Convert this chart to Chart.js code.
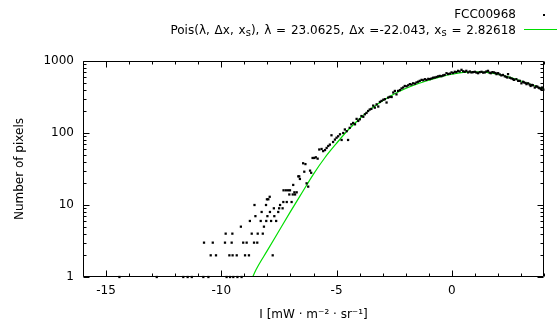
<!DOCTYPE html>
<html>
<head>
<meta charset="utf-8">
<script src="https://cdn.jsdelivr.net/npm/chart.js@4.4.0/dist/chart.umd.min.js"></script>
<style>
    body { margin: 0; background: #fff; }
    #wrap { position: relative; width: 557px; height: 329px; font-family: "DejaVu Sans", sans-serif; font-size: 12px; color: #000; }
    .leg { position: absolute; right: 41px; white-space: nowrap; line-height: 14px; }
    .leg sub { font-size: 10px; vertical-align: -2px; line-height: 0; }
</style>
</head>
<body>
<div id="wrap">
    <canvas id="graphPixels" width="557" height="329"></canvas>
    <div class="leg" style="top:7px">FCC00968</div>
    <div style="position:absolute;left:543px;top:14px;width:2px;height:2px;background:#000"></div>
    <div class="leg" style="top:23px;word-spacing:1px">Pois(λ, Δx, x<sub>s</sub>), λ = 23.0625, Δx =-22.043, x<sub>s</sub> = 2.82618</div>
    <div style="position:absolute;left:524px;top:29px;width:33px;height:1px;background:#00dd00"></div>
</div>
<script>
//Axes - graduations
var xTicks = [-15, -10, -5, 0];
var yTicks = [1, 10, 100, 1000];

//FCC00968 - faibles comptages
var lowX = [
    -14.42, -12.8, -11.65, -11.46, -11.28, -10.78, -10.75, -10.56, -10.46, -10.37,
    -10.23, -9.84, -9.81, -9.77, -9.65, -9.62, -9.55, -9.52, -9.51, -9.48,
    -9.33, -9.30, -9.15, -9.12, -9.05, -8.97, -8.90, -8.80, -8.76, -8.68,
    -8.58, -8.56, -8.52, -8.44, -8.42, -8.29, -8.25, -8.20, -8.15, -8.06,
    -8.05, -8.02, -8.00, -7.96, -7.90, -7.89, -7.84, -7.77, -7.72, -7.70,
    -7.62, -7.53, -7.49, -7.45, -7.34, -7.31, -7.30, -7.20, -7.16, -7.10,
    -7.05, -7.02, -6.95, -6.90, -6.88, -6.83, -6.80, -6.73, -6.66, -6.62,
    -6.59, -6.45, -6.40, -6.35, -6.30, -6.23, -6.15, -6.10, -6.04, -5.97
];
var lowY = [
    1, 1, 1, 1, 1, 1, 3, 1, 2, 3,
    2, 3, 4, 1, 2, 1, 3, 4, 2, 1,
    2, 1, 5, 1, 3, 2, 3, 2, 6, 4,
    3, 10, 7, 3, 4, 6, 8, 4, 5, 10,
    6, 12, 7, 12, 13, 8, 6, 2, 9, 7,
    6, 8, 9, 10, 9, 11, 16, 16, 11, 16,
    14, 16, 11, 14, 19, 15, 14, 15, 25, 25,
    23, 38, 29, 37, 20, 18, 30, 28, 45, 45
];

//FCC00968 - forts comptages
var highX = [
    -5.90, -5.82, -5.75, -5.65, -5.58, -5.50, -5.43, -5.36, -5.29, -5.22, -5.15, -5.07, -5.00,
    -4.93, -4.85, -4.78, -4.71, -4.64, -4.56, -4.50, -4.43, -4.36, -4.28, -4.20, -4.13, -4.06,
    -3.99, -3.92, -3.84, -3.77, -3.70, -3.63, -3.56, -3.49, -3.41, -3.34, -3.26, -3.19, -3.12, -3.05,
    -2.97, -2.90, -2.83, -2.76, -2.69, -2.61, -2.54, -2.47, -2.40, -2.33, -2.25, -2.18, -2.11, -2.04,
    -1.96, -1.89, -1.82, -1.75, -1.68, -1.60, -1.53, -1.46, -1.39, -1.31, -1.24, -1.17, -1.10, -1.02,
    -0.95, -0.88, -0.81, -0.74, -0.66, -0.59, -0.52, -0.45, -0.38, -0.31, -0.23, -0.16, -0.08, -0.01,
    0.06, 0.13, 0.20, 0.27, 0.34, 0.42, 0.49, 0.56, 0.63, 0.71, 0.78, 0.85, 0.92, 1.00,
    1.07, 1.14, 1.21, 1.29, 1.36, 1.43, 1.50, 1.57, 1.64, 1.69, 1.76, 1.83, 1.90, 1.94,
    2.01, 2.08, 2.15, 2.22, 2.30, 2.37, 2.41, 2.44, 2.52, 2.59, 2.66, 2.70, 2.80, 2.88, 2.95,
    3.02, 3.09, 3.13, 3.20, 3.24, 3.31, 3.38, 3.42, 3.48, 3.52, 3.60, 3.66, 3.71, 3.77, 3.81, 3.87, 3.91, 3.97
];
var highY = [
    46, 44, 59, 60, 56, 58, 62, 66, 69, 93, 75, 81, 86,
    90, 96, 80, 100, 112, 106, 80, 118, 132, 138, 132, 157, 147,
    155, 172, 168, 182, 190, 202, 212, 216, 240, 225, 250, 233, 270, 279,
    290, 295, 265, 310, 318, 316, 365, 384, 344, 384, 395, 416, 428, 450,
    445, 460, 477, 470, 490, 485, 504, 515, 530, 547, 540, 559, 547, 565,
    560, 572, 585, 590, 600, 612, 621, 615, 631, 640, 677, 660, 668, 694,
    680, 708, 700, 730, 715, 754, 720, 708, 730, 694, 715, 694, 700, 708,
    690, 677, 700, 708, 690, 694, 715, 730, 690, 677, 700, 694, 680, 657,
    677, 650, 631, 640, 612, 600, 590, 657, 585, 572, 560, 547, 559, 530, 530,
    490, 515, 504, 495, 477, 490, 470, 450, 465, 460, 428, 445, 440, 425, 418, 410, 428, 400
];

//Ajustement Pois - courbe verte
var curveX = [-8.7, -8.5, -8.0, -7.5, -7.0, -6.5, -6.0, -5.5, -5.0, -4.5, -4.0, -3.5, -3.0, -2.5,
    -2.0, -1.5, -1.0, -0.5, 0.0, 0.5, 1.0, 1.5, 2.0, 2.5, 3.0, 3.5, 4.0];
var curveY = [0.9, 1.25, 2.34, 4.35, 8.1, 14.8, 26.9, 45.7, 72, 110, 158, 218, 280, 348,
    415, 480, 540, 600, 655, 695, 708, 695, 655, 596, 528, 465, 405];

function toPoints(xs, ys) {
    var pts = [];
    for (var i = 0; i < xs.length; i++) {
        pts.push({ x: xs[i], y: ys[i] });
    }
    return pts;
}

//Cadre + graduations vers l'intérieur, style gnuplot
var framePlugin = {
    id: 'frame',
    afterDraw: function (chart) {
        var ctx = chart.ctx;
        var a = chart.chartArea;
        var sx = chart.scales.x;
        var sy = chart.scales.y;
        var l = Math.round(a.left) + 0.5, r = Math.round(a.right) - 0.5;
        var t = Math.round(a.top) + 0.5, b = Math.round(a.bottom) - 0.5;
        ctx.save();
        ctx.strokeStyle = '#000';
        ctx.lineWidth = 1;
        ctx.beginPath();
        ctx.rect(l, t, r - l, b - t);
        for (var v = -16; v <= 4; v++) {
            var len = xTicks.indexOf(v) >= 0 ? 6 : 3;
            var px = Math.round(sx.getPixelForValue(v)) + 0.5;
            ctx.moveTo(px, b); ctx.lineTo(px, b - len);
            ctx.moveTo(px, t); ctx.lineTo(px, t + len);
        }
        for (var d = 1; d <= 1000; d *= 10) {
            for (var m = 1; m < 10; m++) {
                var val = d * m;
                if (val > 1000) break;
                var lenY = yTicks.indexOf(val) >= 0 ? 6 : 3;
                var py = Math.round(sy.getPixelForValue(val)) + 0.5;
                ctx.moveTo(l, py); ctx.lineTo(l + lenY, py);
                ctx.moveTo(r, py); ctx.lineTo(r - lenY, py);
            }
        }
        ctx.stroke();
        ctx.restore();
    }
};

function DisplayGraphPixels(graphId) {
    var ctx = document.getElementById(graphId).getContext('2d');
    var font = { family: 'DejaVu Sans', size: 12 };
    var chart = new Chart(ctx, {
        type: 'scatter',
        data: {
            datasets: [{
                label: 'FCC00968',
                data: toPoints(lowX, lowY).concat(toPoints(highX, highY)),
                pointStyle: 'rect',
                pointRadius: 1.6,
                backgroundColor: '#000',
                borderWidth: 0,
                clip: 3,
                order: 1
            }, {
                type: 'line',
                label: 'Pois',
                data: toPoints(curveX, curveY),
                borderColor: '#00dd00',
                borderWidth: 1.2,
                pointRadius: 0,
                showLine: true,
                fill: false,
                cubicInterpolationMode: 'monotone',
                order: 2
            }]
        },
        options: {
            responsive: false,
            animation: false,
            layout: { padding: { top: 61, right: 13, left: 0, bottom: 0 } },
            plugins: {
                legend: { display: false },
                tooltip: { enabled: false }
            },
            scales: {
                x: {
                    type: 'linear',
                    min: -16,
                    max: 4,
                    grid: { display: false, drawTicks: false },
                    border: { display: false },
                    afterBuildTicks: function (s) { s.ticks = xTicks.map(function (v) { return { value: v }; }); },
                    afterFit: function (s) { s.height = 52; },
                    ticks: { padding: 7, font: font, color: '#000', maxRotation: 0, autoSkip: false,
                        callback: function (v) { return String(v); } },
                    title: { display: true, text: 'I [mW · m⁻² · sr⁻¹]', font: font, color: '#000',
                        padding: { top: 0, bottom: 7 } }
                },
                y: {
                    type: 'logarithmic',
                    min: 1,
                    max: 1000,
                    grid: { display: false, drawTicks: false },
                    border: { display: false },
                    afterBuildTicks: function (s) { s.ticks = yTicks.map(function (v) { return { value: v }; }); },
                    afterFit: function (s) { s.width = 83; },
                    ticks: { padding: 9, font: font, color: '#000', autoSkip: false,
                        callback: function (v) { return String(v); } },
                    title: { display: true, text: 'Number of pixels', font: font, color: '#000',
                        padding: { top: 13, bottom: 0 } }
                }
            }
        },
        plugins: [framePlugin]
    });
}

DisplayGraphPixels('graphPixels');
</script>
</body>
</html>
